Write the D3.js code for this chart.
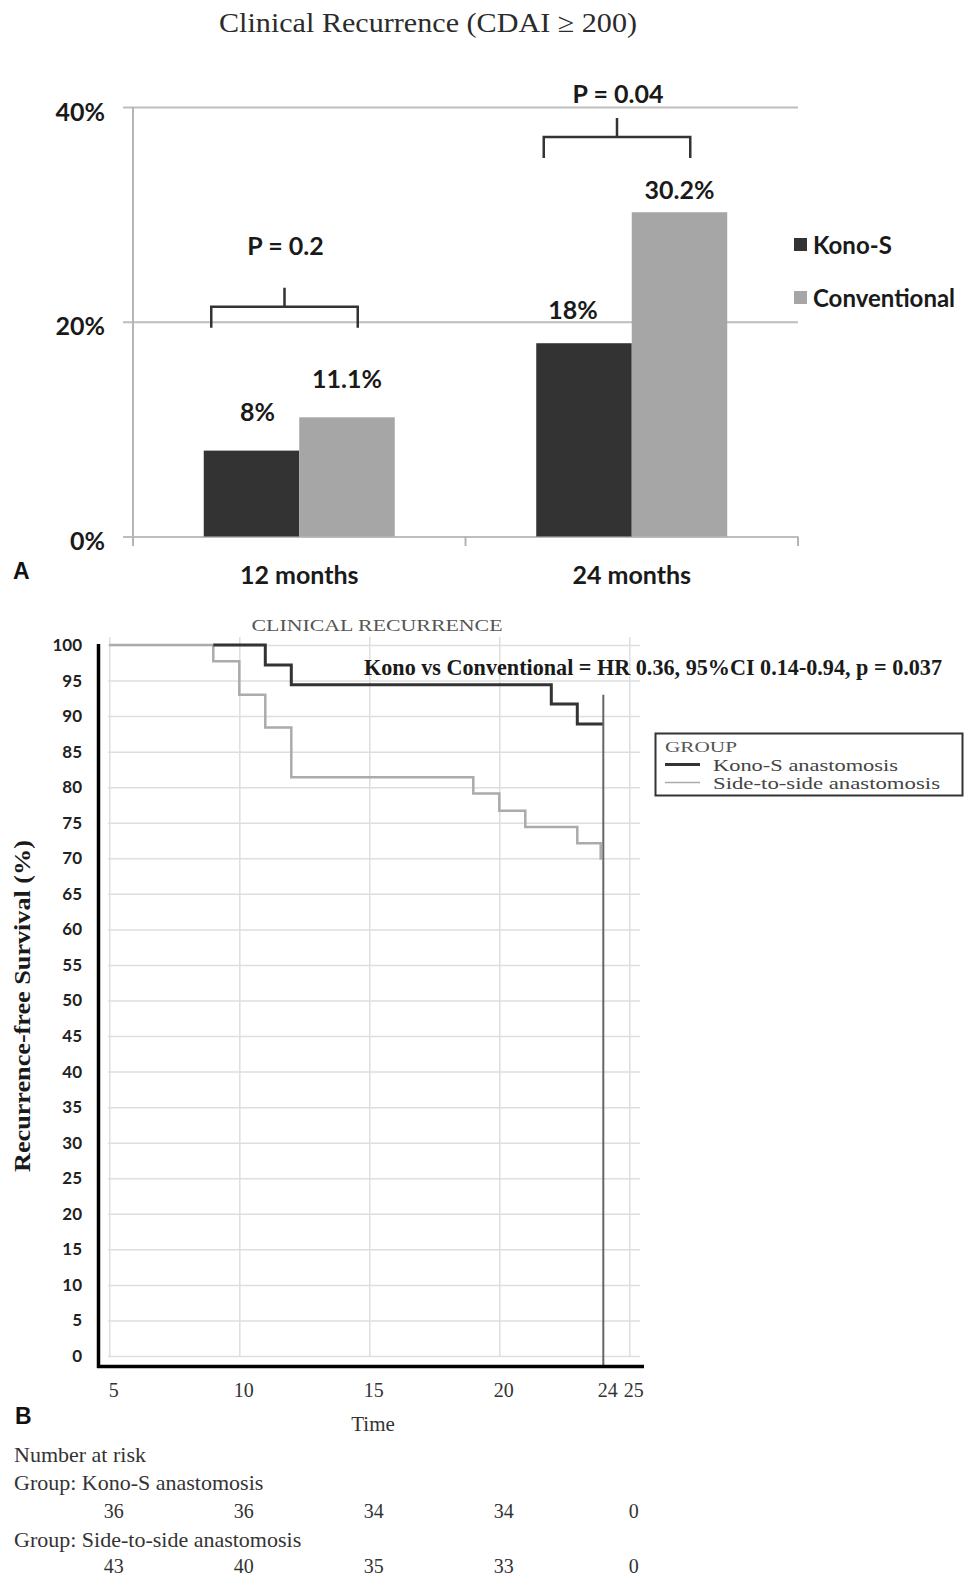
<!DOCTYPE html>
<html>
<head>
<meta charset="utf-8">
<script src="https://d3js.org/d3.v7.min.js"></script>
<style>
  body { margin: 0; background: #fff; }
</style>
</head>
<body>
<div id="chart"></div>
<script>
// panel A data
var barCategories = ["12 months", "24 months"];
var barSeries = ["Kono-S", "Conventional"];
var konoValues = [8, 18];
var conventionalValues = [11.1, 30.2];
var pLabels = ["P = 0.2", "P = 0.04"];
var barTicks = [0, 20, 40];

// panel B data
var kmTimeTicks = [5, 10, 15, 20, 24, 25];
var kmGridTimes = [5, 10, 15, 20, 25];
var kmSurvivalTicks = [0, 5, 10, 15, 20, 25, 30, 35, 40, 45, 50, 55, 60, 65, 70, 75, 80, 85, 90, 95, 100];
var konoTimes = [9, 11, 12, 22, 23, 24];
var konoSurvival = [100, 97.2, 94.4, 91.7, 88.9, 88.9];
var sideTimes = [5, 9, 10, 11, 12, 19, 20, 21, 23, 23.9];
var sideSurvival = [100, 97.7, 93.0, 88.4, 81.4, 79.1, 76.7, 74.4, 72.1, 69.8];
var riskTimes = [5, 10, 15, 20, 25];
var konoAtRisk = [36, 36, 34, 34, 0];
var sideAtRisk = [43, 40, 35, 33, 0];

// hand placed annotation offsets (px)
var valueLift = [39, 38, 33, 22];
var valueShift = [6, 0, -11, 0];
var bracketLevel = [21.4, 37.2];
var pLift = [61, 43];

var svg = d3.select("#chart").append("svg")
    .attr("width", 965)
    .attr("height", 1578);

var sansBold = g => g.attr("font-family", "Lato, 'Open Sans', sans-serif").attr("font-weight", 700).attr("fill", "#1a1a1a");
var serif = "'Liberation Serif', 'Times New Roman', serif";

// ---------- A ----------
var xBar = d3.scaleBand().domain(barCategories).range([133, 798]);
var yBar = d3.scaleLinear().domain([0, 40]).range([536.5, 107]);
var barW = 95.5;
var barColor = d3.scaleOrdinal().domain(barSeries).range(["#333333", "#a6a6a6"]);

var barRows = [];
barCategories.forEach((c, i) => {
  barRows.push({cat: c, series: barSeries[0], value: konoValues[i], k: 0});
  barRows.push({cat: c, series: barSeries[1], value: conventionalValues[i], k: 1});
});
var barX = d => xBar(d.cat) + xBar.bandwidth() / 2 - barW + d.k * barW;

svg.append("text")
    .attr("x", 428).attr("y", 32)
    .attr("text-anchor", "middle")
    .attr("font-family", serif).attr("font-size", 27)
    .attr("textLength", 418).attr("lengthAdjust", "spacingAndGlyphs")
    .attr("fill", "#2b2b2b")
    .text("Clinical Recurrence (CDAI \u2265 200)");

svg.append("g")
    .attr("transform", "translate(123,0)")
    .call(d3.axisLeft(yBar).tickValues(barTicks).tickSize(-675).tickPadding(18).tickFormat(d => d + "%"))
    .call(g => g.select(".domain").remove())
    .call(g => g.selectAll("line").attr("stroke", "#bdbdbd").attr("stroke-width", 2))
    .call(g => g.selectAll("text").call(sansBold).attr("font-size", 25).attr("dy", "0.52em"));

svg.append("line")
    .attr("x1", 133).attr("x2", 133)
    .attr("y1", yBar(40)).attr("y2", 546)
    .attr("stroke", "#b5b5b5").attr("stroke-width", 2);

svg.selectAll(".xtick-bar")
    .data(barCategories.map(c => xBar(c)).concat([xBar.range()[1]]))
    .enter().append("line")
    .attr("class", "xtick-bar")
    .attr("x1", d => d).attr("x2", d => d)
    .attr("y1", yBar(0)).attr("y2", 546)
    .attr("stroke", "#b5b5b5").attr("stroke-width", 2);

svg.selectAll(".bar")
    .data(barRows).enter()
    .append("rect")
    .attr("class", "bar")
    .attr("x", barX)
    .attr("y", d => yBar(d.value))
    .attr("width", barW)
    .attr("height", d => yBar(0) - yBar(d.value))
    .attr("fill", d => barColor(d.series));

svg.selectAll(".bar-label")
    .data(barRows).enter()
    .append("text")
    .attr("class", "bar-label")
    .attr("x", (d, i) => barX(d) + barW / 2 + valueShift[i])
    .attr("y", (d, i) => yBar(d.value) - valueLift[i])
    .attr("dy", "0.36em")
    .attr("text-anchor", "middle")
    .call(sansBold).attr("font-size", 25)
    .text(d => d.value + "%");

svg.append("g")
    .attr("transform", "translate(0," + yBar(0) + ")")
    .call(d3.axisBottom(xBar).tickSize(0).tickPadding(30))
    .call(g => g.select(".domain").remove())
    .call(g => g.selectAll("text").call(sansBold).attr("font-size", 25));

// significance brackets
barCategories.forEach((c, i) => {
  var cx = xBar(c) + xBar.bandwidth() / 2;
  var x0 = cx - 88, x1 = cx + 58.5, yb = yBar(bracketLevel[i]);
  svg.append("path")
      .attr("d", "M" + x0 + "," + (yb + 21) + "V" + yb + "H" + x1 + "V" + (yb + 21)
        + "M" + ((x0 + x1) / 2) + "," + yb + "V" + (yb - 19))
      .attr("fill", "none")
      .attr("stroke", "#333").attr("stroke-width", 2.5);
  svg.append("text")
      .attr("x", (x0 + x1) / 2 + 1)
      .attr("y", yb - pLift[i])
      .attr("dy", "0.36em")
      .attr("text-anchor", "middle")
      .call(sansBold).attr("font-size", 25)
      .text(pLabels[i]);
});

var legA = svg.selectAll(".leg-a")
    .data(barSeries).enter()
    .append("g")
    .attr("class", "leg-a")
    .attr("transform", (d, i) => "translate(794," + (238 + i * 53) + ")");
legA.append("rect").attr("width", 13).attr("height", 13).attr("fill", d => barColor(d));
legA.append("text")
    .attr("x", 19).attr("y", 7).attr("dy", "0.36em")
    .call(sansBold).attr("font-size", 24)
    .text(d => d);

svg.append("text")
    .attr("x", 13).attr("y", 578.5)
    .attr("font-family", "'Liberation Sans', Arial, sans-serif").attr("font-weight", 700)
    .attr("font-size", 23).attr("fill", "#111")
    .text("A");

// ---------- B ----------
var xKM = d3.scaleLinear().domain([5, 25]).range([109.3, 629.3]);
var yKM = d3.scaleLinear().domain([0, 100]).range([1356, 645]);

svg.append("text")
    .attr("x", 377).attr("y", 631)
    .attr("text-anchor", "middle")
    .attr("font-family", serif).attr("font-size", 17)
    .attr("textLength", 251).attr("lengthAdjust", "spacingAndGlyphs")
    .attr("fill", "#555")
    .text("CLINICAL RECURRENCE");

svg.append("g")
    .attr("transform", "translate(108,0)")
    .call(d3.axisLeft(yKM).tickValues(kmSurvivalTicks).tickSize(-532).tickPadding(26))
    .call(g => g.select(".domain").remove())
    .call(g => g.selectAll("line").attr("stroke", "#dedede").attr("stroke-width", 1.5))
    .call(g => g.selectAll("text").call(sansBold).attr("font-size", 17).attr("fill", "#222"));

svg.append("g")
    .attr("transform", "translate(0,1356)")
    .call(d3.axisBottom(xKM).tickValues(kmGridTimes).tickSize(-(1356 - 637)).tickFormat(""))
    .call(g => g.select(".domain").remove())
    .call(g => g.selectAll("line").attr("stroke", "#dedede").attr("stroke-width", 1.5));

var kmLine = d3.line()
    .x(d => xKM(d.t))
    .y(d => yKM(d.s))
    .curve(d3.curveStepAfter);

var sideData = sideTimes.map((t, i) => ({t: t, s: sideSurvival[i]}));
var konoData = konoTimes.map((t, i) => ({t: t, s: konoSurvival[i]}));

svg.append("path")
    .attr("d", kmLine(sideData))
    .attr("fill", "none")
    .attr("stroke", "#ababab").attr("stroke-width", 2.5);

svg.append("path")
    .attr("d", kmLine(konoData))
    .attr("fill", "none")
    .attr("stroke", "#333").attr("stroke-width", 3);

svg.append("line")
    .attr("x1", xKM(24)).attr("x2", xKM(24))
    .attr("y1", yKM(93)).attr("y2", 1366)
    .attr("stroke", "#666").attr("stroke-width", 2);

svg.append("line")
    .attr("x1", 98.5).attr("x2", 98.5)
    .attr("y1", 644).attr("y2", 1368)
    .attr("stroke", "#000").attr("stroke-width", 3.5);

svg.append("line")
    .attr("x1", 97).attr("x2", 644)
    .attr("y1", 1366.5).attr("y2", 1366.5)
    .attr("stroke", "#000").attr("stroke-width", 3.5);

svg.append("g")
    .attr("transform", "translate(4,1366.5)")
    .call(d3.axisBottom(xKM).tickValues(kmTimeTicks).tickSize(0).tickPadding(16))
    .call(g => g.select(".domain").remove())
    .call(g => g.selectAll("text").attr("font-family", serif).attr("font-size", 20).attr("fill", "#333"));

svg.append("text")
    .attr("x", 373).attr("y", 1431)
    .attr("text-anchor", "middle")
    .attr("font-family", serif).attr("font-size", 21).attr("fill", "#333")
    .text("Time");

svg.append("text")
    .attr("transform", "translate(30,1006) rotate(-90)")
    .attr("text-anchor", "middle")
    .attr("font-family", serif).attr("font-weight", 700).attr("font-size", 24)
    .attr("textLength", 332).attr("lengthAdjust", "spacingAndGlyphs")
    .attr("fill", "#1a1a1a")
    .text("Recurrence-free Survival (%)");

svg.append("text")
    .attr("x", 364).attr("y", 675)
    .attr("font-family", serif).attr("font-weight", 700).attr("font-size", 23)
    .attr("textLength", 578).attr("lengthAdjust", "spacingAndGlyphs")
    .attr("fill", "#1a1a1a")
    .text("Kono vs Conventional = HR 0.36, 95%CI 0.14-0.94, p = 0.037");

// legend B
var legB = svg.append("g");
legB.append("rect")
    .attr("x", 655.5).attr("y", 733.5).attr("width", 307).attr("height", 62)
    .attr("fill", "#fff").attr("stroke", "#333").attr("stroke-width", 2);
legB.append("text")
    .attr("x", 665).attr("y", 752)
    .attr("font-family", serif).attr("font-size", 15)
    .attr("textLength", 72).attr("lengthAdjust", "spacingAndGlyphs")
    .attr("fill", "#555").text("GROUP");
var legItems = [
  {name: "Kono-S anastomosis", color: "#333", w: 3, len: 185},
  {name: "Side-to-side anastomosis", color: "#ababab", w: 1.5, len: 227}
];
legB.selectAll(".leg-b-line")
    .data(legItems).enter()
    .append("line")
    .attr("x1", 665).attr("x2", 700)
    .attr("y1", (d, i) => 764.5 + i * 18).attr("y2", (d, i) => 764.5 + i * 18)
    .attr("stroke", d => d.color).attr("stroke-width", d => d.w);
legB.selectAll(".leg-b-text")
    .data(legItems).enter()
    .append("text")
    .attr("x", 713).attr("y", (d, i) => 771 + i * 17.5)
    .attr("font-family", serif).attr("font-size", 16)
    .attr("textLength", d => d.len).attr("lengthAdjust", "spacingAndGlyphs")
    .attr("fill", "#444")
    .text(d => d.name);

svg.append("text")
    .attr("x", 15).attr("y", 1423.5)
    .attr("font-family", "'Liberation Sans', Arial, sans-serif").attr("font-weight", 700)
    .attr("font-size", 23).attr("fill", "#111")
    .text("B");

// number at risk
var riskRows = [
  {label: "Number at risk", y: 1462},
  {label: "Group: Kono-S anastomosis", y: 1490, values: konoAtRisk, vy: 1518},
  {label: "Group: Side-to-side anastomosis", y: 1546.5, values: sideAtRisk, vy: 1572.5}
];
riskRows.forEach(r => {
  svg.append("text")
      .attr("x", 14).attr("y", r.y)
      .attr("font-family", serif).attr("font-size", 22).attr("fill", "#333")
      .text(r.label);
  if (!r.values) return;
  svg.selectAll(null)
      .data(r.values).enter()
      .append("text")
      .attr("x", (d, i) => xKM(riskTimes[i]) + 4.5)
      .attr("y", r.vy)
      .attr("text-anchor", "middle")
      .attr("font-family", serif).attr("font-size", 20).attr("fill", "#333")
      .text(d => d);
});
</script>
</body>
</html>
